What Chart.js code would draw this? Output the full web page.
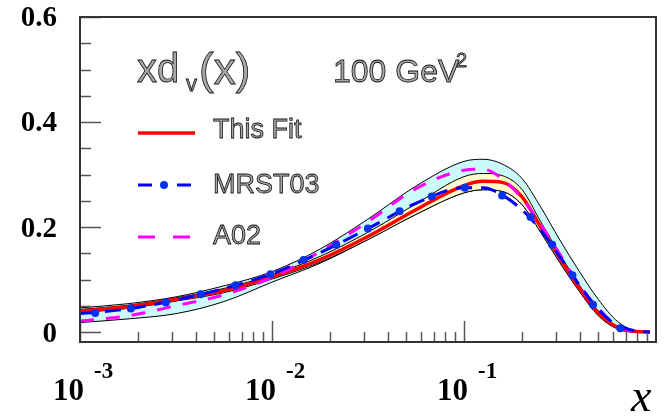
<!DOCTYPE html>
<html>
<head>
<meta charset="utf-8">
<script src="https://cdn.jsdelivr.net/npm/chart.js@4.4.0/dist/chart.umd.min.js"></script>
<style>
  html, body { margin: 0; padding: 0; background: #fff; }
  #wrap { width: 669px; height: 418px; }
</style>
</head>
<body>
<div id="wrap"><canvas id="pdfChart" width="669" height="418"></canvas></div>
<script>
// x grid (Bjorken x) and the curves
const xValues  = [0.001, 0.00178, 0.00316, 0.00562, 0.01, 0.0178, 0.0316, 0.0562, 0.1, 0.126, 0.158, 0.2, 0.251, 0.316, 0.398, 0.501, 0.631, 0.794, 0.93];
const thisFit  = [0.040, 0.048, 0.062, 0.079, 0.105, 0.138, 0.182, 0.233, 0.279, 0.287, 0.285, 0.258, 0.200, 0.140, 0.084, 0.036, 0.009, 0.001, 0];
const mrst03   = [0.035, 0.044, 0.061, 0.083, 0.111, 0.151, 0.197, 0.245, 0.275, 0.275, 0.261, 0.233, 0.194, 0.143, 0.090, 0.043, 0.012, 0.002, 0];
const a02      = [0.021, 0.031, 0.050, 0.071, 0.104, 0.153, 0.210, 0.273, 0.308, 0.310, 0.292, 0.255, 0.205, 0.148, 0.090, 0.045, 0.011, 0.001, 0];
const expUpper = [0.043, 0.051, 0.065, 0.083, 0.109, 0.144, 0.190, 0.244, 0.296, 0.302, 0.298, 0.272, 0.210, 0.148, 0.090, 0.040, 0.011, 0.001, 0];
const expLower = [0.037, 0.045, 0.059, 0.075, 0.101, 0.133, 0.176, 0.224, 0.265, 0.271, 0.268, 0.243, 0.190, 0.132, 0.078, 0.031, 0.006, 0, 0];
const totUpper = [0.046, 0.054, 0.067, 0.088, 0.115, 0.158, 0.215, 0.278, 0.325, 0.329, 0.320, 0.293, 0.238, 0.175, 0.116, 0.062, 0.020, 0.002, 0];
const totLower = [0.018, 0.025, 0.035, 0.058, 0.095, 0.131, 0.176, 0.224, 0.265, 0.271, 0.268, 0.243, 0.190, 0.132, 0.078, 0.031, 0.006, 0, 0];

// MRST03 markers
const mrstDotX = [0.0012, 0.00184, 0.0028, 0.00425, 0.00646, 0.00982, 0.0146, 0.0216, 0.0316, 0.0462, 0.0679, 0.101, 0.158, 0.222, 0.288, 0.367, 0.47, 0.652];
const mrstDotY = [0.036, 0.045, 0.056, 0.072, 0.089, 0.110, 0.137, 0.166, 0.197, 0.230, 0.258, 0.275, 0.260, 0.219, 0.166, 0.108, 0.052, 0.007];

// axis ticks
const yMajorTicks = [0, 0.2, 0.4, 0.6];
const yTickLabels = ['0', '0.2', '0.4', '0.6'];
const yMinorStep = 0.05;
const xDecades = [0.001, 0.01, 0.1];
const xDecadeExponents = ['-3', '-2', '-1'];
const legendLabels = ['This Fit', 'MRST03', 'A02'];

function pts(ys) {
  return xValues.map((x, i) => ({ x: x, y: ys[i] }));
}

const CYAN = '#ccf9f9';
const CREAM = '#fffbcc';

const datasets = [
  // 0..3: error bands (drawn first, high order)
  { label: 'totUpper', data: pts(totUpper), borderColor: '#000', borderWidth: 1, backgroundColor: CYAN, fill: 1, order: 10 },
  { label: 'totLower', data: pts(totLower), borderColor: '#000', borderWidth: 1, fill: false, order: 9 },
  { label: 'expUpper', data: pts(expUpper), borderColor: '#000', borderWidth: 1, backgroundColor: CREAM, fill: 3, order: 8 },
  { label: 'expLower', data: pts(expLower), borderColor: '#000', borderWidth: 1, fill: false, order: 7 },
  // curves
  { label: legendLabels[0], data: pts(thisFit), borderColor: '#ff0000', borderWidth: 3.5, fill: false, order: 4 },
  { label: legendLabels[2], data: pts(a02), borderColor: '#ff00ff', borderWidth: 3, borderDash: [14, 12], fill: false, order: 3 },
  { label: legendLabels[1], data: pts(mrst03), borderColor: '#0000ff', borderWidth: 3, borderDash: [16, 9], fill: false, order: 2 },
  { label: 'mrstDots', data: mrstDotX.map((x, i) => ({ x: x, y: mrstDotY[i] })), showLine: false,
    pointRadius: 4, pointBackgroundColor: '#0033ee', pointBorderWidth: 0, borderColor: '#0033ee', fill: false, order: 1 }
];

datasets.forEach(d => {
  d.cubicInterpolationMode = 'monotone';
  if (d.pointRadius === undefined) d.pointRadius = 0;
});

function hollowText(ctx, text, x, y, font) {
  ctx.font = font;
  ctx.fillStyle = '#a8a8a8';
  ctx.fillText(text, x, y);
  ctx.lineWidth = 0.8;
  ctx.strokeStyle = '#111';
  ctx.strokeText(text, x, y);
}

const decorPlugin = {
  id: 'decor',
  afterDraw(chart) {
    const ctx = chart.ctx;
    const xs = chart.scales.x;
    const ys = chart.scales.y;
    const a = chart.chartArea;
    ctx.save();

    // y ticks (inside)
    ctx.strokeStyle = '#555';
    ctx.lineWidth = 1.5;
    for (let i = 0; i * yMinorStep <= 0.6 + 1e-9; i++) {
      const v = i * yMinorStep;
      const py = Math.round(ys.getPixelForValue(v)) + 0.5;
      const major = yMajorTicks.some(t => Math.abs(t - v) < 1e-9);
      ctx.beginPath();
      ctx.moveTo(a.left, py);
      ctx.lineTo(a.left + (major ? 21 : 11), py);
      ctx.stroke();
    }
    // x ticks (inside)
    xDecades.forEach(d => {
      for (let k = 1; k <= 9; k++) {
        const px = Math.round(xs.getPixelForValue(k * d)) + 0.5;
        ctx.beginPath();
        ctx.moveTo(px, a.bottom);
        ctx.lineTo(px, a.bottom - (k === 1 ? 21 : 10));
        ctx.stroke();
      }
    });

    // frame
    ctx.strokeStyle = '#333';
    ctx.lineWidth = 2;
    ctx.strokeRect(a.left, a.top, a.right - a.left, a.bottom - a.top);

    // y labels
    ctx.fillStyle = '#000';
    ctx.font = 'bold 29px "Liberation Serif", "Times New Roman", serif';
    ctx.textAlign = 'right';
    ctx.textBaseline = 'middle';
    yMajorTicks.forEach((t, i) => {
      ctx.fillText(yTickLabels[i], 57, ys.getPixelForValue(t) + 2);
    });

    // x labels 10^n
    ctx.textBaseline = 'alphabetic';
    xDecades.forEach((d, i) => {
      const px = xs.getPixelForValue(d);
      ctx.font = 'bold 31px "Liberation Serif", "Times New Roman", serif';
      ctx.textAlign = 'right';
      ctx.fillText('10', px + 4, 400);
      ctx.font = 'bold 23px "Liberation Serif", "Times New Roman", serif';
      ctx.textAlign = 'left';
      ctx.fillText(xDecadeExponents[i], px + 14, 378);
    });

    // axis title
    ctx.font = 'italic 46px "Liberation Serif", "Times New Roman", serif';
    ctx.textAlign = 'left';
    ctx.fillText('x', 631, 411);

    // title texts
    ctx.textAlign = 'left';
    hollowText(ctx, 'xd', 137, 82, '40px "Liberation Sans", Arial, sans-serif');
    hollowText(ctx, 'v', 186, 91, '22px "Liberation Sans", Arial, sans-serif');
    hollowText(ctx, '(x)', 199, 84, '44px "Liberation Sans", Arial, sans-serif');
    hollowText(ctx, '100 GeV', 333, 82, '32px "Liberation Sans", Arial, sans-serif');
    hollowText(ctx, '2', 456, 67, '20px "Liberation Sans", Arial, sans-serif');

    // legend
    const rows = [
      { ds: chart.data.datasets[4], y: 133, ty: 138 },
      { ds: chart.data.datasets[6], y: 185, ty: 193 },
      { ds: chart.data.datasets[5], y: 237, ty: 244 }
    ];
    rows.forEach((r, i) => {
      ctx.strokeStyle = r.ds.borderColor;
      ctx.lineWidth = r.ds.borderWidth;
      ctx.setLineDash(i === 1 ? [14, 25] : (i === 2 ? [17, 18] : []));
      ctx.beginPath();
      ctx.moveTo(138, r.y);
      ctx.lineTo(195, r.y);
      ctx.stroke();
      ctx.setLineDash([]);
      if (i === 1) {
        ctx.fillStyle = '#0033ee';
        ctx.beginPath();
        ctx.arc(164, r.y, 4, 0, Math.PI * 2);
        ctx.fill();
      }
      hollowText(ctx, legendLabels[i], 213, r.ty, '27px "Liberation Sans", Arial, sans-serif');
    });

    ctx.restore();
  }
};

new Chart(document.getElementById('pdfChart'), {
  type: 'line',
  data: { datasets: datasets },
  options: {
    responsive: false,
    animation: false,
    devicePixelRatio: 1,
    layout: { padding: { left: 80, top: 17, right: 13, bottom: 76 } },
    plugins: { legend: { display: false }, tooltip: { enabled: false } },
    scales: {
      x: { type: 'logarithmic', min: 0.001, max: 1, display: false },
      y: { type: 'linear', min: -0.019, max: 0.6, display: false }
    }
  },
  plugins: [decorPlugin]
});
</script>
</body>
</html>
